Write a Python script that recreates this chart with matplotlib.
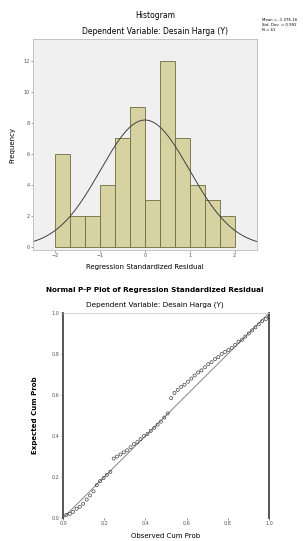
import numpy as np
import matplotlib
matplotlib.use("Agg")
import matplotlib.pyplot as plt

plt.rcParams['font.family'] = ['DejaVu Sans']

# histogram of standardized residuals (bins of 1/3 from -2 to 2)
bin_edges = [-2.0, -1.667, -1.333, -1.0, -0.667, -0.333, 0.0,
             0.333, 0.667, 1.0, 1.333, 1.667, 2.0]
counts = [6, 2, 2, 4, 7, 9, 3, 12, 7, 4, 3, 2]
res_mean = 0.0
res_sd = 0.992
res_n = 61
hist_xticks = [-2, -1, 0, 1, 2]
hist_yticks = [0, 2, 4, 6, 8, 10, 12]
dep_var = "Dependent Variable: Desain Harga (Y)"

# normal P-P plot
obs_cum = [0.016, 0.033, 0.049, 0.066, 0.082, 0.098, 0.115, 0.131, 0.148, 0.164,
           0.180, 0.197, 0.213, 0.230, 0.246, 0.262, 0.279, 0.295, 0.311, 0.328,
           0.344, 0.361, 0.377, 0.393, 0.410, 0.426, 0.443, 0.459, 0.475, 0.492,
           0.508, 0.525, 0.541, 0.557, 0.574, 0.590, 0.607, 0.623, 0.639, 0.656,
           0.672, 0.689, 0.705, 0.721, 0.738, 0.754, 0.770, 0.787, 0.803, 0.820,
           0.836, 0.852, 0.869, 0.885, 0.902, 0.918, 0.934, 0.951, 0.967, 0.984,
           1.000]
exp_cum = [0.015, 0.020, 0.030, 0.045, 0.055, 0.070, 0.090, 0.110, 0.130, 0.160,
           0.180, 0.195, 0.210, 0.225, 0.290, 0.300, 0.310, 0.320, 0.330, 0.345,
           0.360, 0.370, 0.385, 0.400, 0.410, 0.425, 0.440, 0.455, 0.470, 0.490,
           0.510, 0.585, 0.610, 0.625, 0.640, 0.650, 0.665, 0.680, 0.695, 0.710,
           0.720, 0.735, 0.750, 0.760, 0.775, 0.785, 0.800, 0.810, 0.820, 0.830,
           0.845, 0.860, 0.870, 0.885, 0.900, 0.915, 0.930, 0.945, 0.960, 0.970,
           0.980]
pp_ticks = [0.0, 0.2, 0.4, 0.6, 0.8, 1.0]

W, H = 303, 541
fig = plt.figure(figsize=(W / 100, H / 100), dpi=100)
fig.patch.set_facecolor('white')

# ---- histogram ----
ax1 = fig.add_axes([33 / W, 1 - 250 / H, 224 / W, 211 / H])
ax1.set_facecolor('#f0f0f0')
widths = np.diff(bin_edges)
ax1.bar(bin_edges[:-1], counts, width=widths, align='edge',
        color='#d6d2a2', edgecolor='#6e6c3e', linewidth=0.6)
xs = np.linspace(-2.5, 2.5, 200)
bw = widths.mean()
curve = res_n * bw / (res_sd * np.sqrt(2 * np.pi)) * np.exp(-0.5 * ((xs - res_mean) / res_sd) ** 2)
ax1.plot(xs, curve, color='#404040', linewidth=0.7)
ax1.set_xlim(-2.5, 2.5)
ax1.set_ylim(-0.2, 13.4)
ax1.set_xticks(hist_xticks)
ax1.set_yticks(hist_yticks)
ax1.tick_params(labelsize=3.5, length=1.5, width=0.4, colors='#555555', pad=1)
for s in ax1.spines.values():
    s.set_color('#bbbbbb')
    s.set_linewidth(0.6)
ax1.set_xlabel("Regression Standardized Residual", fontsize=5, labelpad=4)
ax1.set_ylabel("Frequency", fontsize=5, labelpad=6)
fig.text(155 / W, 1 - 15 / H, "Histogram", ha='center', va='center', fontsize=5.5)
fig.text(155 / W, 1 - 32 / H, dep_var, ha='center', va='center', fontsize=5.5)
fig.text(262 / W, 1 - 25 / H,
         "Mean = -1.37E-16\nStd. Dev. = %.3f\nN = %d" % (res_sd, res_n),
         ha='left', va='center', fontsize=2.8, linespacing=1.2)

# ---- P-P plot ----
ax2 = fig.add_axes([63 / W, 1 - 518 / H, 206 / W, 205 / H])
ax2.set_facecolor('white')
ax2.plot([0, 1], [0, 1], color='#707070', linewidth=0.6)
ax2.scatter(obs_cum, exp_cum, s=5, facecolors='none', edgecolors='#333333',
            linewidths=0.45, zorder=3)
ax2.set_xlim(0, 1)
ax2.set_ylim(0, 1)
ax2.set_xticks(pp_ticks)
ax2.set_yticks(pp_ticks)
ax2.set_xticklabels(["%.1f" % t for t in pp_ticks])
ax2.set_yticklabels(["%.1f" % t for t in pp_ticks])
ax2.tick_params(labelsize=3.5, length=1.5, width=0.5, colors='#555555', pad=1)
ax2.spines['left'].set_color('#555555')
ax2.spines['left'].set_linewidth(1.4)
ax2.spines['right'].set_color('#555555')
ax2.spines['right'].set_linewidth(1.4)
ax2.spines['top'].set_color('#cccccc')
ax2.spines['top'].set_linewidth(0.6)
ax2.spines['bottom'].set_visible(False)
ax2.set_xlabel("Observed Cum Prob", fontsize=5, labelpad=5)
ax2.set_ylabel("Expected Cum Prob", fontsize=5, labelpad=10, fontweight='bold')
fig.text(155 / W, 1 - 290 / H,
         "Normal P-P Plot of Regression Standardized Residual",
         ha='center', va='center', fontsize=5.2, fontweight='bold')
fig.text(155 / W, 1 - 305 / H, dep_var, ha='center', va='center', fontsize=5.2)

fig.savefig("out.png", dpi=100)
